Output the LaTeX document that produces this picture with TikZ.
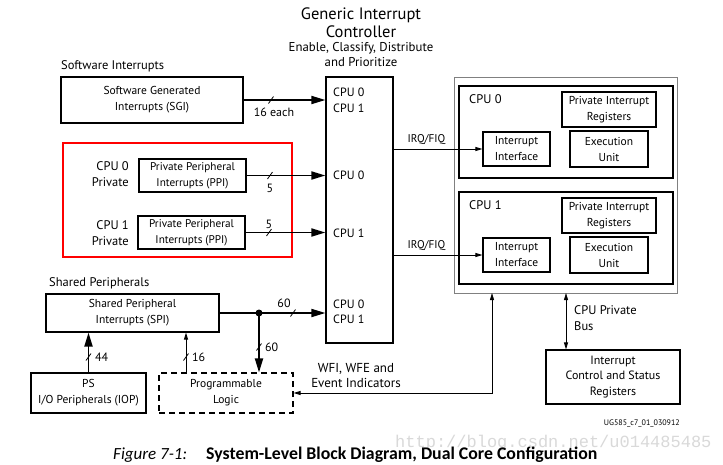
\documentclass[tikz,border=0pt]{standalone}
\usepackage{fontspec}
\setmainfont{PT Sans}
\newfontfamily\capfont{Carlito}
\newfontfamily\markfont{Liberation Mono}
\usepackage{tikz}
\usetikzlibrary{shapes,arrows.meta,positioning}

\begin{document}
\begin{tikzpicture}[
      x=1pt, y=-1pt,
      every node/.style={font=\fontsize{12.5}{16}\selectfont, inner sep=0pt},
      blk/.style={draw, line width=1.1pt, align=center, font=\fontsize{11.5}{16}\selectfont},
      core/.style={draw, line width=1.4pt, minimum width=214pt, minimum height=92pt},
      count/.style={font=\fontsize{12}{14}\selectfont},
      gicin/.style={anchor=west, align=left, font=\fontsize{12}{15.5}\selectfont},
      bus/.style={line width=1.8pt, ->, >={Triangle[length=14pt,width=8pt]}},
      sig/.style={line width=0.8pt, ->, >={Triangle[length=7pt,width=4pt]}},
      slash/.pic={\draw[line width=0.8pt] (-2.5,3.5) -- (2.5,-3.5);}
    ]
    \fill[white] (0,0) rectangle (723,464);
    \useasboundingbox (0,0) rectangle (723,464);

    \node[align=center, font=\fontsize{16.5}{18}\selectfont] (gictitle) at (361,23) {Generic Interrupt\\Controller};
    \node[align=center, font=\fontsize{12.8}{15}\selectfont] (gicsub) at (361,55) {Enable, Classify, Distribute\\and Prioritize};
    \node[draw, line width=1.2pt, minimum width=67pt, minimum height=266pt] (gic) at (359.5,210) {};
    \node[gicin] (gicsgi) at (333,100.5) {CPU 0\\CPU 1};
    \node[gicin] (gicppi0) at (333,175) {CPU 0};
    \node[gicin] (gicppi1) at (333,233) {CPU 1};
    \node[gicin] (gicspi) at (333,312) {CPU 0\\CPU 1};

    \node[anchor=west] (swlabel) at (61,66) {Software Interrupts};
    \node[blk, minimum width=182pt, minimum height=46pt] (sgi) at (152,100) {Software Generated\\Interrupts (SGI)};
    \draw[bus] (sgi.east) -- (sgi.east -| gic.west);
    \pic at (271,100) {slash};
    \node[count] (sgicount) at (274,112) {16 each};

    \draw[red, line width=1.6pt] (63,143) rectangle (292,257);
    \node[anchor=east, align=right] (cpu0priv) at (129,174.5) {CPU 0\\Private};
    \node[blk, minimum width=107pt, minimum height=33pt, font=\fontsize{11.2}{16}\selectfont] (ppi0) at (192.5,175.5) {Private Peripheral\\Interrupts (PPI)};
    \draw[bus] (ppi0.east) -- (ppi0.east -| gic.west);
    \pic at (270,175.5) {slash};
    \node[count] (ppi0count) at (270,188) {5};
    \node[anchor=east, align=right] (cpu1priv) at (129,233) {CPU 1\\Private};
    \node[blk, minimum width=107pt, minimum height=33pt, font=\fontsize{11.2}{16}\selectfont] (ppi1) at (191.5,232.5) {Private Peripheral\\Interrupts (PPI)};
    \draw[bus] (ppi1.east) -- (ppi1.east -| gic.west);
    \pic at (269,232.5) {slash};
    \node[count] (ppi1count) at (269,224) {5};

    \node[anchor=west] (shlabel) at (49,283) {Shared Peripherals};
    \node[blk, minimum width=173pt, minimum height=38pt] (spi) at (132.5,313) {Shared Peripheral\\Interrupts (SPI)};
    \node[circle, fill, minimum size=7pt] (split) at (259,313) {};
    \draw[bus] (spi.east) -- (spi.east -| gic.west);
    \pic at (293,313) {slash};
    \node[count] (spicount) at (284,303) {60};
    \node[blk, dashed, dash pattern=on 6pt off 4pt, minimum width=134pt, minimum height=40pt] (pl) at (226,393) {Programmable\\Logic};
    \draw[bus] (split.center) -- (split |- pl.north);
    \pic at (259,347) {slash};
    \node[count, anchor=west] (plcount) at (265,347) {60};
    \node[blk, minimum width=115pt, minimum height=40pt] (ps) at (88.5,393) {PS\\I/O Peripherals (IOP)};
    \draw[bus] (ps.north) -- (ps.north |- spi.south);
    \pic at (88.5,357) {slash};
    \node[count, anchor=west] (pscount) at (95,357) {44};
    \coordinate (plout) at (186,373);
    \draw[sig] (plout) -- (plout |- spi.south);
    \pic at (186,357) {slash};
    \node[count, anchor=west] (plsigcount) at (192,357) {16};

    \node[draw=gray, line width=1pt, minimum width=223pt, minimum height=216pt] (cluster) at (565.5,185) {};
    \node[core] (cpu0) at (566,132) {};
    \node[anchor=west] (cpu0name) at (469,99) {CPU 0};
    \node[blk, minimum width=94pt, minimum height=35pt] (pir0) at (609,109.5) {Private Interrupt\\Registers};
    \node[blk, minimum width=67pt, minimum height=34pt] (ii0) at (516.5,149) {Interrupt\\Interface};
    \node[blk, minimum width=78pt, minimum height=36pt] (eu0) at (609,149) {Execution\\Unit};
    \draw[sig] (gic.east |- ii0.west) -- node[count, font=\fontsize{11.2}{14}\selectfont, above=4pt, pos=0.37] (irq0) {IRQ/FIQ} (ii0.west);
    \node[core] (cpu1) at (566,238) {};
    \node[anchor=west] (cpu1name) at (469,205) {CPU 1};
    \node[blk, minimum width=94pt, minimum height=35pt] (pir1) at (609,215.5) {Private Interrupt\\Registers};
    \node[blk, minimum width=67pt, minimum height=34pt] (ii1) at (516.5,255) {Interrupt\\Interface};
    \node[blk, minimum width=78pt, minimum height=36pt] (eu1) at (609,255) {Execution\\Unit};
    \draw[sig] (gic.east |- ii1.west) -- node[count, font=\fontsize{11.2}{14}\selectfont, above=4pt, pos=0.37] (irq1) {IRQ/FIQ} (ii1.west);

    \node[blk, minimum width=134pt, minimum height=54pt, font=\fontsize{12}{15.5}\selectfont] (icsr) at (613,377) {Interrupt\\Control and Status\\Registers};
    \coordinate (bustop) at (566,293);
    \draw[sig, <->] (bustop) -- (bustop |- icsr.north);
    \node[anchor=west, align=left] (buslabel) at (574,318) {CPU Private\\Bus};
    \coordinate (wfitop) at (492,293);
    \draw[sig, <->] (pl.east) -| (wfitop);
    \node[align=center, font=\fontsize{13}{15.5}\selectfont] (wfilabel) at (356,375.5) {WFI, WFE and\\Event Indicators};

    \node[anchor=east, font=\fontsize{8}{9}\selectfont] (figid) at (680,423) {UG585\_c7\_01\_030912};
    \node[anchor=west, text=gray!30, font=\markfont\fontsize{17}{17}\selectfont] (watermark) at (395,443) {http://blog.csdn.net/u014485485};
    \node[anchor=west, font=\capfont\fontsize{17}{18}\selectfont\itshape] (capnum) at (113,455) {Figure 7-1:};
    \node[anchor=west, font=\capfont\fontsize{17.8}{18}\selectfont\bfseries] (captext) at (206,455) {System-Level Block Diagram, Dual Core Configuration};
  \end{tikzpicture}
\end{document}
